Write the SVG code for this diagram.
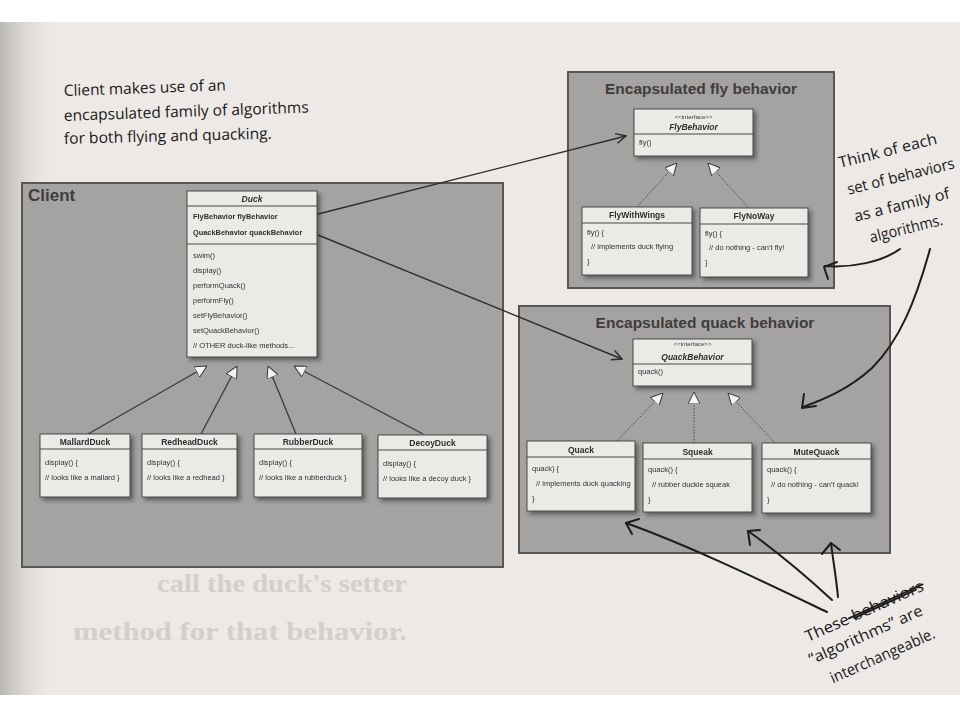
<svg xmlns="http://www.w3.org/2000/svg" width="960" height="720" viewBox="0 0 960 720">
<defs>
<style>
.grp{fill:#a5a3a2;stroke:#595756;stroke-width:2}
.node{fill:#eceae7;stroke:#4a4848;stroke-width:1}
.div{stroke:#4a4848;stroke-width:1}
.gt{font-family:"Liberation Sans",Arial,sans-serif;font-weight:bold;font-size:15.5px;fill:#3e3d3c}
.nt{font-family:"Liberation Sans",Arial,sans-serif;font-weight:bold;font-size:8.5px;fill:#2e2d2c;text-anchor:middle}
.it{font-family:"Liberation Sans",Arial,sans-serif;font-style:italic;font-weight:bold;font-size:8.5px;fill:#2e2d2c;text-anchor:middle}
.st{font-family:"Liberation Sans",Arial,sans-serif;font-size:6.2px;fill:#3a3938;text-anchor:middle}
.tx{font-family:"Liberation Sans",Arial,sans-serif;font-size:7.5px;fill:#333231}
.bt{font-family:"Liberation Sans",Arial,sans-serif;font-weight:bold;font-size:7.4px;fill:#2e2d2c}
.hw{font-family:"Open Sans","DejaVu Sans",sans-serif;font-size:15.5px;fill:#1a1918}
.ink{fill:none;stroke:#1e1d1c;stroke-width:2;stroke-linecap:round;stroke-linejoin:round}
.inh{fill:none;stroke:#3a3938;stroke-width:1.3}
.real{fill:none;stroke:#4a4848;stroke-width:1;stroke-dasharray:1.5 1.5}
.assoc{fill:none;stroke:#2e2d2c;stroke-width:1.4}
.bleed{font-family:"Liberation Serif","Times New Roman",serif;font-weight:bold;font-size:26px;fill:#d2cfcc}
</style>
<filter id="sh" x="-10%" y="-10%" width="130%" height="140%">
<feDropShadow dx="3" dy="3" stdDeviation="2.2" flood-color="#2a2a2a" flood-opacity="0.55"/>
</filter>
<linearGradient id="edge" x1="0" y1="0" x2="1" y2="0">
<stop offset="0" stop-color="#b9b7b5"/>
<stop offset="1" stop-color="#ece9e6" stop-opacity="0"/>
</linearGradient>
<marker id="tri" viewBox="0 0 12 12" refX="12" refY="6" markerWidth="12" markerHeight="12" markerUnits="userSpaceOnUse" orient="auto">
<path d="M0,0 L12,6 L0,12 Z" fill="#f4f3f1" stroke="#3a3938" stroke-width="1"/>
</marker>
<marker id="open" viewBox="0 0 12 12" refX="11" refY="6" markerWidth="12" markerHeight="12" markerUnits="userSpaceOnUse" orient="auto">
<path d="M1,1 L11,6 L1,11" fill="none" stroke="#2e2d2c" stroke-width="1.5"/>
</marker>
</defs>

<rect width="960" height="720" fill="#ffffff"/>
<rect x="0" y="22" width="960" height="673" fill="#ece9e6"/>
<rect x="0" y="22" width="60" height="673" fill="url(#edge)"/>

<text class="bleed" x="157" y="592" textLength="250" lengthAdjust="spacingAndGlyphs">call the duck's setter</text>
<text class="bleed" x="73" y="640" textLength="334" lengthAdjust="spacingAndGlyphs">method for that behavior.</text>

<g id="client">
<rect class="grp" x="22" y="183" width="481" height="384"/>
<text x="28" y="201" font-family="Liberation Sans,Arial,sans-serif" font-weight="bold" font-size="17" fill="#3e3d3c">Client</text>
</g>

<g id="fly-group">
<rect class="grp" x="568" y="72" width="266" height="216"/>
<text class="gt" x="701" y="94" text-anchor="middle">Encapsulated fly behavior</text>
</g>

<g id="quack-group">
<rect class="grp" x="519" y="306" width="371" height="247"/>
<text class="gt" x="705" y="328" text-anchor="middle">Encapsulated quack behavior</text>
</g>

<g id="connectors">
<path class="inh" d="M88,434 L207,366" marker-end="url(#tri)"/>
<path class="inh" d="M201,434 L237,366" marker-end="url(#tri)"/>
<path class="inh" d="M296,434 L268,366" marker-end="url(#tri)"/>
<path class="inh" d="M423,434 L294,366" marker-end="url(#tri)"/>
<path class="real" d="M637,207 L677,163" marker-end="url(#tri)"/>
<path class="real" d="M748,207 L708,163" marker-end="url(#tri)"/>
<path class="real" d="M617,441 L663,393" marker-end="url(#tri)"/>
<path class="real" d="M694,443 L694,392" marker-end="url(#tri)"/>
<path class="real" d="M775,443 L728,393" marker-end="url(#tri)"/>
<path class="assoc" d="M318,214 L626,136" marker-end="url(#open)"/>
<path class="assoc" d="M318,235 L622,359" marker-end="url(#open)"/>
</g>

<g id="duck" filter="url(#sh)">
<rect class="node" x="187" y="191" width="130" height="166"/>
<line class="div" x1="187" y1="206" x2="317" y2="206"/>
<line class="div" x1="187" y1="244" x2="317" y2="244"/>
<text class="it" x="252" y="202" font-size="9.5">Duck</text>
<text class="bt" x="193" y="219">FlyBehavior flyBehavior</text>
<text class="bt" x="193" y="235">QuackBehavior quackBehavior</text>
<text class="tx" x="193" y="258">swim()</text>
<text class="tx" x="193" y="273">display()</text>
<text class="tx" x="193" y="288">performQuack()</text>
<text class="tx" x="193" y="303">performFly()</text>
<text class="tx" x="193" y="318">setFlyBehavior()</text>
<text class="tx" x="193" y="333">setQuackBehavior()</text>
<text class="tx" x="193" y="348">// OTHER duck-like methods...</text>
</g>

<g id="mallard" filter="url(#sh)">
<rect class="node" x="40" y="434" width="90" height="63"/>
<line class="div" x1="40" y1="449" x2="130" y2="449"/>
<text class="nt" x="85" y="445">MallardDuck</text>
<text class="tx" x="45" y="465">display() {</text>
<text class="tx" x="45" y="480">// looks like a mallard }</text>
</g>
<g id="redhead" filter="url(#sh)">
<rect class="node" x="142" y="434" width="95" height="63"/>
<line class="div" x1="142" y1="449" x2="237" y2="449"/>
<text class="nt" x="189.5" y="445">RedheadDuck</text>
<text class="tx" x="147" y="465">display() {</text>
<text class="tx" x="147" y="480">// looks like a redhead }</text>
</g>
<g id="rubber" filter="url(#sh)">
<rect class="node" x="254" y="434" width="108" height="63"/>
<line class="div" x1="254" y1="449" x2="362" y2="449"/>
<text class="nt" x="308" y="445">RubberDuck</text>
<text class="tx" x="259" y="465">display() {</text>
<text class="tx" x="259" y="480">// looks like a rubberduck }</text>
</g>
<g id="decoy" filter="url(#sh)">
<rect class="node" x="378" y="435" width="109" height="63"/>
<line class="div" x1="378" y1="450" x2="487" y2="450"/>
<text class="nt" x="432.5" y="446">DecoyDuck</text>
<text class="tx" x="383" y="466">display() {</text>
<text class="tx" x="383" y="481">// looks like a decoy duck }</text>
</g>

<g id="flybehavior" filter="url(#sh)">
<rect class="node" x="634" y="109" width="119" height="47"/>
<line class="div" x1="634" y1="134" x2="753" y2="134"/>
<text class="st" x="693.5" y="119">&lt;&lt;interface&gt;&gt;</text>
<text class="it" x="693.5" y="130">FlyBehavior</text>
<text class="tx" x="639" y="145">fly()</text>
</g>
<g id="flywithwings" filter="url(#sh)">
<rect class="node" x="582" y="207" width="110" height="68"/>
<line class="div" x1="582" y1="223" x2="692" y2="223"/>
<text class="nt" x="637" y="218">FlyWithWings</text>
<text class="tx" x="587" y="235">fly() {</text>
<text class="tx" x="591" y="249">// implements duck flying</text>
<text class="tx" x="587" y="264">}</text>
</g>
<g id="flynoway" filter="url(#sh)">
<rect class="node" x="700" y="208" width="108" height="69"/>
<line class="div" x1="700" y1="224" x2="808" y2="224"/>
<text class="nt" x="754" y="219">FlyNoWay</text>
<text class="tx" x="705" y="236">fly() {</text>
<text class="tx" x="709" y="250">// do nothing - can't fly!</text>
<text class="tx" x="705" y="265">}</text>
</g>

<g id="quackbehavior" filter="url(#sh)">
<rect class="node" x="633" y="339" width="119" height="47"/>
<line class="div" x1="633" y1="364" x2="752" y2="364"/>
<text class="st" x="692.5" y="346">&lt;&lt;interface&gt;&gt;</text>
<text class="it" x="692.5" y="360">QuackBehavior</text>
<text class="tx" x="638" y="374">quack()</text>
</g>
<g id="quack" filter="url(#sh)">
<rect class="node" x="527" y="441" width="108" height="70"/>
<line class="div" x1="527" y1="457" x2="635" y2="457"/>
<text class="nt" x="581" y="453">Quack</text>
<text class="tx" x="532" y="471">quack) {</text>
<text class="tx" x="536" y="486">// implements duck quacking</text>
<text class="tx" x="532" y="501">}</text>
</g>
<g id="squeak" filter="url(#sh)">
<rect class="node" x="643" y="443" width="109" height="69"/>
<line class="div" x1="643" y1="459" x2="752" y2="459"/>
<text class="nt" x="697.5" y="455">Squeak</text>
<text class="tx" x="648" y="472">quack() {</text>
<text class="tx" x="652" y="487">// rubber duckie squeak</text>
<text class="tx" x="648" y="502">}</text>
</g>
<g id="mutequack" filter="url(#sh)">
<rect class="node" x="762" y="443" width="109" height="70"/>
<line class="div" x1="762" y1="459" x2="871" y2="459"/>
<text class="nt" x="816.5" y="455">MuteQuack</text>
<text class="tx" x="767" y="472">quack() {</text>
<text class="tx" x="771" y="487">// do nothing - can't quack!</text>
<text class="tx" x="767" y="502">}</text>
</g>

<g id="note-client">
<text class="hw" x="64" y="96" textLength="162" lengthAdjust="spacingAndGlyphs" transform="rotate(-2 64 96)">Client makes use of an</text>
<text class="hw" x="64" y="121" textLength="245" lengthAdjust="spacingAndGlyphs" transform="rotate(-2 64 121)">encapsulated family of algorithms</text>
<text class="hw" x="64" y="144" textLength="208" lengthAdjust="spacingAndGlyphs" transform="rotate(-1.5 64 144)">for both flying and quacking.</text>
</g>

<g id="note-think">
<g transform="translate(840,168) rotate(-14)">
<text class="hw" x="0" y="0" textLength="101" lengthAdjust="spacingAndGlyphs">Think of each</text>
<text class="hw" x="2" y="28" textLength="110" lengthAdjust="spacingAndGlyphs">set of behaviors</text>
<text class="hw" x="2" y="56" textLength="98" lengthAdjust="spacingAndGlyphs">as a family of</text>
<text class="hw" x="12" y="80" textLength="75" lengthAdjust="spacingAndGlyphs">algorithms.</text>
</g>
<path class="ink" d="M900,249 C882,262 852,268 825,266"/>
<path class="ink" d="M837,262 L824,267 L828,279"/>
<path class="ink" d="M930,249 C916,300 900,340 872,368 C848,390 822,400 803,407"/>
<path class="ink" d="M804,394 L802,408 L816,406"/>
</g>

<g id="note-these">
<g transform="translate(808,642) rotate(-24)">
<text class="hw" x="0" y="0" textLength="128" lengthAdjust="spacingAndGlyphs">These behaviors</text>
<path class="ink" d="M47,-5 L128,-6" stroke-width="2.4"/>
<path class="ink" d="M52,-3 L120,-4" stroke-width="1.6"/>
<text class="hw" x="-6" y="22" textLength="123" lengthAdjust="spacingAndGlyphs">“algorithms” are</text>
<text class="hw" x="6" y="48" textLength="113" lengthAdjust="spacingAndGlyphs">interchangeable.</text>
</g>
<path class="ink" d="M827,612 C760,580 690,546 626,523"/>
<path class="ink" d="M639,519 L626,523 L632,534"/>
<path class="ink" d="M832,600 C806,576 776,551 748,531"/>
<path class="ink" d="M760,530 L748,531 L750,545"/>
<path class="ink" d="M838,597 C836,576 833,560 831,543"/>
<path class="ink" d="M822,554 L831,543 L840,550"/>
</g>
</svg>
